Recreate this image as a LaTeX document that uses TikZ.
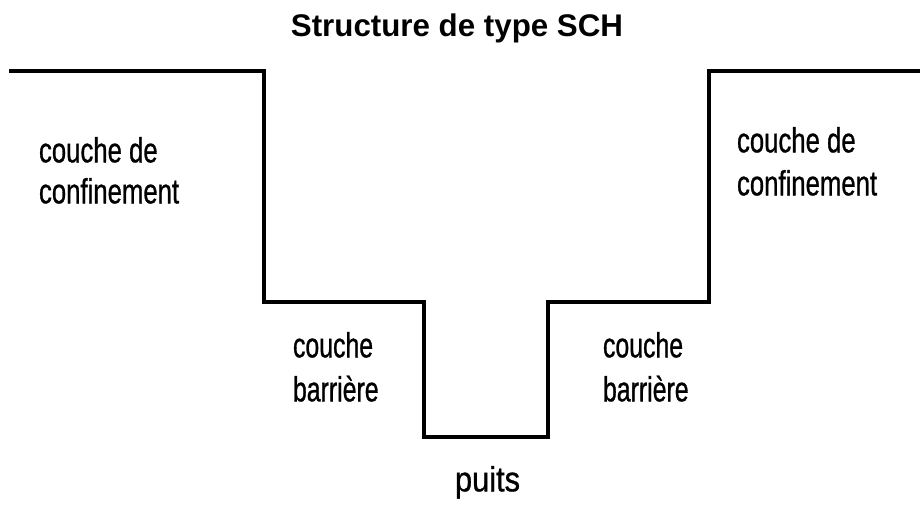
\documentclass[tikz,border=0pt]{standalone}
\usepackage{fontspec}
\setmainfont{Liberation Sans}
\newfontfamily\narrowfont[FakeStretch=0.735,FakeBold=0.8]{Liberation Sans}
\newfontfamily\barfont[FakeStretch=0.71,FakeBold=0.8]{Liberation Sans}
\newfontfamily\puitsfont[FakeStretch=0.88,FakeBold=0.8]{Liberation Sans}
\begin{document}
\begin{tikzpicture}[x=1pt,y=-1pt,
  profile/.style={line width=4pt, line join=miter, line cap=butt},
  lbl/.style={inner sep=0pt, outer sep=0pt, align=left, anchor=north west,
    font=\narrowfont\fontsize{35}{#1}\selectfont},
  lbl/.default=43,
  barlbl/.style={lbl, font=\barfont\fontsize{35}{44}\selectfont},
  puitslbl/.style={lbl, font=\puitsfont\fontsize{35}{43}\selectfont},
  ttl/.style={inner sep=0pt, anchor=base, font=\bfseries\fontsize{31.3}{36}\selectfont}]
\useasboundingbox (0,0) rectangle (920,505);
% profile corners
\coordinate (a) at (9,71);
\coordinate (b) at (264,71);
\coordinate (c) at (264,302);
\coordinate (d) at (424,302);
\coordinate (e) at (424,437);
\coordinate (f) at (548,437);
\coordinate (g) at (548,302);
\coordinate (h) at (709,302);
\coordinate (i) at (709,71);
\coordinate (j) at (920,71);
\draw[profile] (a) -- (b) -- (c) -- (d) -- (e) -- (f) -- (g) -- (h) -- (i) -- (j);
% texts
\node[ttl] (title) at (457,37) {Structure de type SCH};
\node[lbl=41] (confL) at (39,137) {couche de\\confinement};
\node[lbl=43] (confR) at (737,127) {couche de\\confinement};
\node[barlbl] (barL) at (293,332) {couche\\barrière};
\node[barlbl] (barR) at (603,332) {couche\\barrière};
\node[puitslbl] (puits) at (455,466) {puits};
\end{tikzpicture}
\end{document}
